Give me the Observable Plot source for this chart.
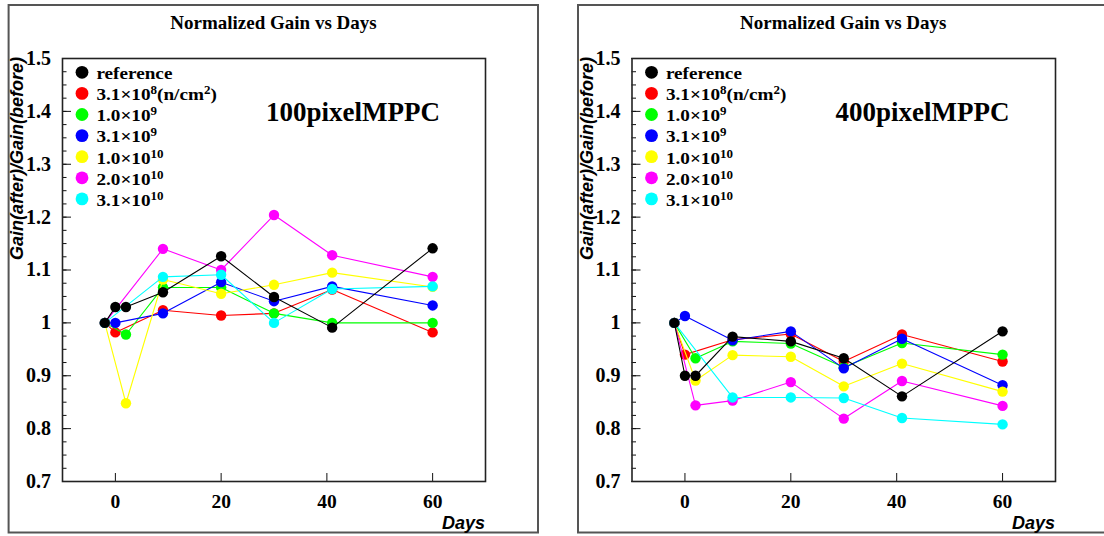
<!DOCTYPE html>
<html><head><meta charset="utf-8">
<script src="https://cdn.jsdelivr.net/npm/d3@7"></script>
<script src="https://cdn.jsdelivr.net/npm/@observablehq/plot@0.6"></script>
<style>
body{margin:0;background:#fff;}
#wrap{position:relative;width:1104px;height:536px;overflow:hidden;background:#fff;}
#wrap svg{position:absolute;top:0;}
</style></head><body><div id="wrap"></div>
<script>
// ---- data ----
const days = [-2, 0, 2, 9, 20, 30, 41, 60];
const seriesNames = ["reference", "3.1e8", "1.0e9", "3.1e9", "1.0e10", "2.0e10", "3.1e10"];
const legendLabels = ["reference", "3.1×10^{8}(n/cm^{2})", "1.0×10^{9}", "3.1×10^{9}", "1.0×10^{10}", "2.0×10^{10}", "3.1×10^{10}"];
const seriesColors = ["#000000", "#ff0000", "#00ff00", "#0000ff", "#ffff00", "#ff00ff", "#00ffff"];
const drawOrder = [1, 2, 3, 4, 5, 6, 0];

// 100 pixel MPPC
const ref100   = [1.0, 1.030, 1.030, 1.058, 1.126, 1.049, 0.991, 1.141];
const e8_100   = [1.0, 0.982, null,  1.024, 1.014, 1.018, 1.063, 0.982];
const e9_100   = [1.0, null,  0.978, 1.067, 1.067, 1.018, 1.000, 1.000];
const e9b_100  = [1.0, 1.000, null,  1.018, 1.077, 1.041, 1.069, 1.033];
const e10_100  = [1.0, null,  0.848, 1.082, 1.055, 1.072, 1.095, 1.068];
const e10b_100 = [1.0, null,  null,  1.140, 1.100, 1.204, 1.128, 1.087];
const e10c_100 = [1.0, null,  null,  1.087, 1.091, 1.000, 1.064, 1.069];

// 400 pixel MPPC
const ref400   = [1.0, 0.900, 0.900, 0.974, 0.965, 0.933, 0.861, 0.984];
const e8_400   = [1.0, 0.940, null,  0.968, 0.979, 0.927, 0.978, 0.927];
const e9_400   = [1.0, null,  0.933, 0.965, 0.961, 0.916, 0.962, 0.940];
const e9b_400  = [1.0, 1.013, null,  0.967, 0.984, 0.914, 0.970, 0.882];
const e10_400  = [1.0, null,  0.891, 0.939, 0.936, 0.880, 0.923, 0.870];
const e10b_400 = [1.0, null,  0.844, 0.853, 0.888, 0.819, 0.890, 0.843];
const e10c_400 = [1.0, null,  null,  0.859, 0.859, 0.858, 0.820, 0.808];

const yTicks = [0.7, 0.8, 0.9, 1.0, 1.1, 1.2, 1.3, 1.4, 1.5];
const yTickLabels = ["0.7", "0.8", "0.9", "1", "1.1", "1.2", "1.3", "1.4", "1.5"];
const yMinorTicks = d3.range(0, 33).map(i => 0.7 + i * 0.025);
const xTicks = [0, 20, 40, 60];
const xTickLabels = ["0", "20", "40", "60"];

const panels = [
  {label: "100pixelMPPC", values: [ref100, e8_100, e9_100, e9b_100, e10_100, e10b_100, e10c_100], left: 0, ml: 62, mr: 67, frameX: 8.6, frameW: 529.4},
  {label: "400pixelMPPC", values: [ref400, e8_400, e9_400, e9b_400, e10_400, e10b_400, e10c_400], left: 552, ml: 79.5, mr: 49, frameX: 26, frameW: 600}
];

const W = 552, H = 536, MT = 58, MB = 55;
const serif = "'Liberation Serif', 'Times New Roman', serif";
const sans = "'Liberation Sans', Arial, sans-serif";

function makePanel(p) {
  const rows = [];
  p.values.forEach((arr, i) => arr.forEach((v, j) => {
    if (v != null) rows.push({series: seriesNames[i], day: days[j], gain: v});
  }));
  const pw = W - p.ml - p.mr;
  const ph = H - MT - MB;
  const marks = [
    Plot.tickY(yMinorTicks, {y: d => d, insetRight: pw - 4.5, stroke: "#111", strokeWidth: 1}),
    Plot.tickY(yTicks, {y: d => d, insetRight: pw - 9, stroke: "#111", strokeWidth: 1}),
    Plot.tickX(xTicks, {x: d => d, insetTop: ph - 8, stroke: "#111", strokeWidth: 1}),
    Plot.axisY({ticks: yTicks, tickSize: 0, tickPadding: 11.5, tickFormat: d => yTickLabels[yTicks.indexOf(d)],
      fontSize: 20, fontWeight: "bold", fontFamily: serif, label: null}),
    Plot.axisX({ticks: xTicks, tickSize: 0, tickPadding: 13, tickFormat: d => xTickLabels[xTicks.indexOf(d)],
      fontSize: 19.5, fontWeight: "bold", fontFamily: serif, label: null})
  ];
  for (const i of drawOrder) {
    const d = rows.filter(r => r.series === seriesNames[i]);
    marks.push(Plot.line(d, {x: "day", y: "gain", stroke: "series", strokeWidth: 1.1}));
    marks.push(Plot.dot(d, {x: "day", y: "gain", fill: "series", r: 5.2}));
  }
  marks.push(Plot.frame({stroke: "#222", strokeWidth: 1.6}));

  const svg = Plot.plot({
    width: W, height: H,
    marginLeft: p.ml, marginRight: p.mr, marginTop: MT, marginBottom: MB,
    x: {domain: [-10, 70]},
    y: {domain: [0.7, 1.5]},
    color: {domain: seriesNames, range: seriesColors},
    style: {background: "transparent", color: "#000"},
    marks
  });
  svg.style.left = p.left + "px";
  const s = d3.select(svg);
  // outer pad frame
  s.insert("rect", ":first-child")
    .attr("x", p.frameX).attr("y", 5).attr("width", p.frameW).attr("height", 527.5)
    .attr("fill", "none").attr("stroke", "#555").attr("stroke-width", 2);
  const cx = p.ml + pw / 2;
  // title
  s.append("text").attr("x", cx).attr("y", 29).attr("text-anchor", "middle")
    .attr("font-family", serif).attr("font-weight", "bold").attr("font-size", 19)
    .text("Normalized Gain vs Days");
  // y title
  s.append("text").attr("transform", `translate(${p.ml - 39},${MT - 1}) rotate(-90)`)
    .attr("text-anchor", "end").attr("font-family", sans).attr("font-weight", "bold")
    .attr("font-style", "italic").attr("font-size", 18).text("Gain(after)/Gain(before)");
  // x title
  s.append("text").attr("x", W - p.mr).attr("y", 528.5).attr("text-anchor", "end")
    .attr("font-family", sans).attr("font-weight", "bold").attr("font-style", "italic")
    .attr("font-size", 18).text("Days");
  // panel label
  s.append("text").attr("x", p.ml + 204).attr("y", 121).attr("text-anchor", "start")
    .attr("font-family", serif).attr("font-weight", "bold").attr("font-size", 27).text(p.label);
  // legend
  legendLabels.forEach((lab, i) => {
    const yc = 72.3 + i * 21.1;
    s.append("circle").attr("cx", p.ml + 20).attr("cy", yc).attr("r", 6.4).attr("fill", seriesColors[i]);
    const t = s.append("text")
      .attr("transform", `translate(${p.ml + 34.4},${yc + 6.8}) scale(1.13,1)`)
      .attr("text-anchor", "start")
      .attr("font-family", serif).attr("font-weight", "bold").attr("font-size", 17);
    const parts = lab.split(/\^\{([^}]*)\}/);
    let raised = false;
    parts.forEach((part, k) => {
      if (part === "") { return; }
      const sup = k % 2 === 1;
      const ts = t.append("tspan").text(part);
      if (sup) { ts.attr("font-size", 11.5).attr("dy", raised ? 0 : -6); raised = true; }
      else { if (raised) ts.attr("dy", 6); raised = false; }
    });
  });
  return svg;
}

const wrap = document.getElementById("wrap");
panels.forEach(p => wrap.appendChild(makePanel(p)));
</script>
</body></html>
